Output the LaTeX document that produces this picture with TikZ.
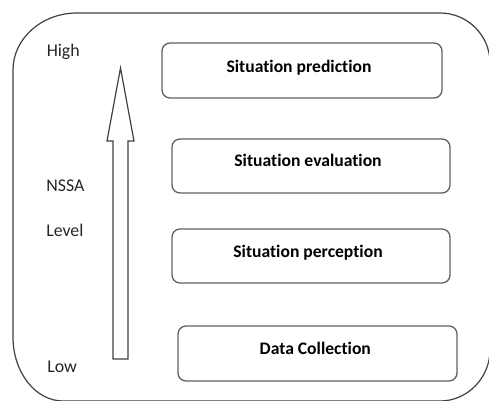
\documentclass[tikz,border=0pt]{standalone}
\usepackage{fontspec}
\setmainfont{Carlito}[Ligatures=NoCommon]
\begin{document}
\begin{tikzpicture}[x=0.75pt,y=-0.75pt,
  frame/.style={draw=black!75,line width=0.9pt},
  levelbox/.style={draw=black!62,line width=1pt,rounded corners=6pt,rectangle,inner sep=0pt},
  boxtext/.style={font=\fontsize{13.2}{15}\selectfont\bfseries,anchor=base,inner sep=0pt},
  sidetext/.style={font=\fontsize{13.4}{15}\selectfont,anchor=base west,inner sep=0pt,text=black!85},
  bigarrow/.style={draw=black!75,line width=0.9pt,line join=miter}]
\useasboundingbox (0,0) rectangle (489,400);
\clip (0,0) rectangle (489,400);
% outer frame
\draw[frame] (77,13) -- (440,13) .. controls (467.6,13) and (490,35.4) .. (490,63)
  -- (490,350) .. controls (490,377.6) and (467.6,401) .. (440,401)
  -- (63,401) .. controls (35.4,401) and (13,372.3) .. (13,337)
  -- (13,70) .. controls (13,38.5) and (41.7,13) .. (77,13) -- cycle;
% level boxes
\node[levelbox,minimum width=280*0.75pt,minimum height=55*0.75pt] (pred) at (302,70.5) {};
\node[levelbox,minimum width=278*0.75pt,minimum height=54*0.75pt] (eval) at (311,166) {};
\node[levelbox,minimum width=278*0.75pt,minimum height=54*0.75pt] (perc) at (311,256) {};
\node[levelbox,minimum width=279*0.75pt,minimum height=55*0.75pt] (data) at (317.5,353.5) {};
\node[boxtext] (predt) at (299,72) {Situation prediction};
\node[boxtext] (evalt) at (308,166.5) {Situation evaluation};
\node[boxtext] (perct) at (308,257.5) {Situation perception};
\node[boxtext] (datat) at (315.3,354.5) {Data Collection};
% side labels
\node[sidetext] (high) at (46.5,56) {High};
\node[sidetext] (nssa) at (46,191.5) {NSSA};
\node[sidetext] (level) at (46,236.5) {Level};
\node[sidetext] (low) at (47,372.5) {Low};
% block arrow
\draw[bigarrow] (113,359) -- (113,141) -- (107,141) -- (120.5,68) -- (134,141)
  -- (128,141) -- (128,359) -- cycle;
\end{tikzpicture}
\end{document}
